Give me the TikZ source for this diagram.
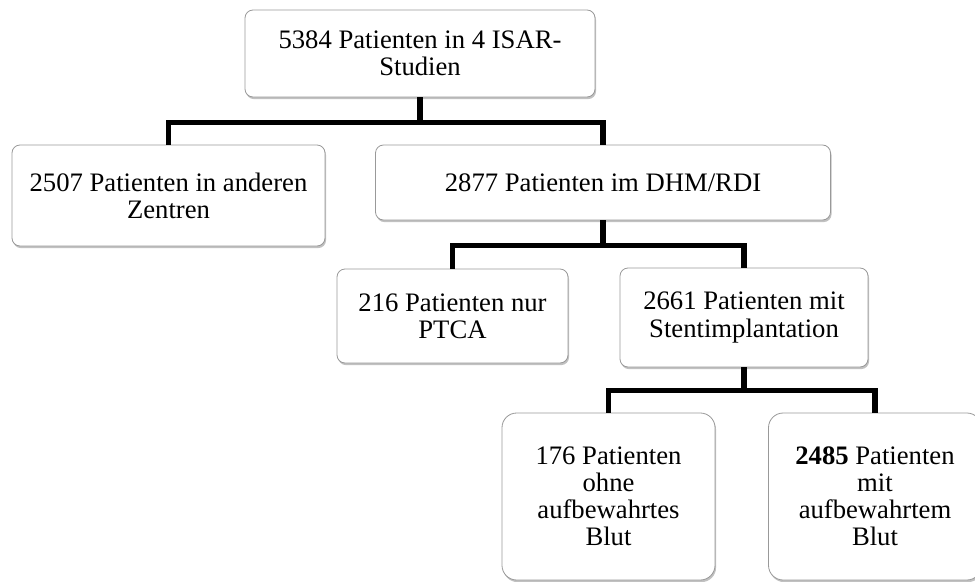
\documentclass[tikz,border=0pt]{standalone}
\usepackage{fontspec}
\setmainfont{Liberation Serif}
\usetikzlibrary{
calc,
shadows,
}

\tikzset{
  box/.style={draw=black!40, line width=0.6pt, fill=white, rounded corners=6pt,
    align=center, inner sep=0pt,
    font=\fontsize{20}{20.3}\selectfont,
    drop shadow={shadow xshift=0.8pt, shadow yshift=-1.6pt, opacity=0.35, fill=black!70}},
  tallbox/.style={box, rounded corners=11pt},
  branch/.style={line width=3.8pt, line join=miter},
}

\begin{document}
\begin{tikzpicture}[x=0.75pt, y=-0.75pt]
  \useasboundingbox (0,0) rectangle (975,582);
  \clip (0,0) rectangle (975,582);

  \node[box, minimum width=350*0.75pt, minimum height=87*0.75pt] (studien) at (420,53.5)
    {5384 Patienten in 4 ISAR-\\Studien};
  \node[box, minimum width=313*0.75pt, minimum height=101*0.75pt] (andere) at (168.5,195.5)
    {2507 Patienten in anderen\\Zentren};
  \node[box, minimum width=455*0.75pt, minimum height=75*0.75pt] (dhm) at (603,182.5)
    {2877 Patienten im DHM/RDI};
  \node[box, minimum width=231*0.75pt, minimum height=94*0.75pt] (ptca) at (452.5,316)
    {216 Patienten nur\\PTCA};
  \node[box, minimum width=248*0.75pt, minimum height=99*0.75pt] (stent) at (744,317.5)
    {2661 Patienten mit\\Stentimplantation};
  \node[tallbox, minimum width=213*0.75pt, minimum height=167*0.75pt] (ohne) at (608.5,496.5)
    {176 Patienten\\ohne\\aufbewahrtes\\Blut};
  \node[tallbox, minimum width=213*0.75pt, minimum height=167*0.75pt] (mit) at (875,496.5)
    {\textbf{2485} Patienten\\mit\\aufbewahrtem\\Blut};

  \draw[branch] (studien.south) -- ++(0,25) -| (andere.north);
  \draw[branch] (studien.south) -- ++(0,25) -| (dhm.north);
  \draw[branch] (dhm.south) -- ++(0,25.5) -| (ptca.north);
  \draw[branch] (dhm.south) -- ++(0,25.5) -| (stent.north);
  \draw[branch] (stent.south) -- ++(0,23) -| (ohne.north);
  \draw[branch] (stent.south) -- ++(0,23) -| (mit.north);
\end{tikzpicture}
\end{document}
